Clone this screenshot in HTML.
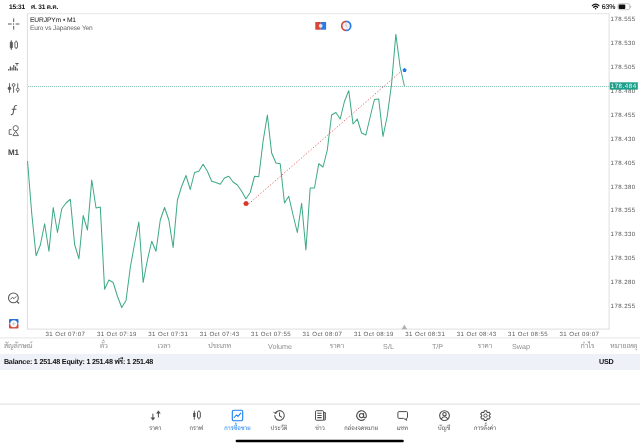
<!DOCTYPE html>
<html lang="th"><head><meta charset="utf-8"><title>EURJPYm M1</title>
<style>
*{margin:0;padding:0;box-sizing:border-box}
html,body{width:640px;height:447px;background:#fff;overflow:hidden}
body{position:relative;text-rendering:geometricPrecision;font-family:"Liberation Sans","Sarabun","Loma",sans-serif;color:#222}
.abs{position:absolute;white-space:nowrap}
.sb{position:absolute;top:2.9px;height:9px;line-height:9px;font-size:6.6px;font-weight:bold;color:#111;white-space:nowrap;letter-spacing:-0.18px}
.pl{position:absolute;left:610.6px;width:28px;height:10px;line-height:10px;font-size:6.1px;color:#555;white-space:nowrap;letter-spacing:0.42px}
.tl{position:absolute;top:329.8px;height:10px;line-height:10px;font-size:6.1px;color:#595959;white-space:nowrap;letter-spacing:0.42px}
.ch{position:absolute;top:341.2px;width:60px;height:12px;line-height:12px;font-size:7.2px;color:#8e8e8e;text-align:center;white-space:nowrap;overflow:visible}
.ch.th{font-size:7px;color:#8a8a8a}
.tab{position:absolute;top:407.8px;width:60px;height:28px;text-align:center;color:#555}
.tab svg{display:block;margin:0 auto}
.tab .tt{font-size:6px;line-height:9px;height:9px;margin-top:2px;white-space:nowrap}
.tab.act{color:#1b7df0}
</style></head><body>
<!-- status bar -->
<div class="sb" style="left:9px">15:31</div>
<div class="sb" style="left:31px">ศ. 31 ต.ค.</div>
<svg class="abs" style="left:588px;top:0" width="50" height="13" viewBox="0 0 50 13">
<path d="M4.3 5.6a4.7 4.7 0 0 1 6.6 0" fill="none" stroke="#111" stroke-width="1.3" stroke-linecap="round"/>
<path d="M5.7 7.2a2.7 2.7 0 0 1 3.8 0" fill="none" stroke="#111" stroke-width="1.3" stroke-linecap="round"/>
<circle cx="7.6" cy="8.7" r="0.8" fill="#111"/>
<rect x="29.9" y="3.7" width="11.8" height="6" rx="1.7" fill="none" stroke="#a0a0a0" stroke-width="0.6"/>
<rect x="30.7" y="4.5" width="6.6" height="4.4" rx="1" fill="#111"/>
<path d="M42.3 5.7v2a1 1 0 0 0 0-2z" fill="#a0a0a0"/>
</svg>
<div class="sb" style="left:601.7px;font-size:6.9px;font-weight:normal;letter-spacing:0;-webkit-text-stroke:0.12px #111">63%</div>

<div class="abs" style="left:30px;top:15.5px;font-size:6.7px;line-height:9px;color:#2a2a2a;letter-spacing:-0.11px;-webkit-text-stroke:0.05px #2a2a2a">EURJPYm • M1</div>
<div class="abs" style="left:30px;top:23.6px;font-size:6.6px;line-height:9px;color:#666;letter-spacing:-0.15px">Euro vs Japanese Yen</div>

<svg class="abs" style="left:0;top:0" width="640" height="447" viewBox="0 0 640 447">
<!-- chart frame -->
<g stroke="#dedede" stroke-width="1" fill="none">
<path d="M27.4 13.2V329.5M609.1 13.2V329.5"/>
<path d="M27 329.1H609.6"/>
<path d="M27 13.7H609.6" stroke="#e6e6e6"/>
<path d="M0 337.9H640" stroke="#e6e6e6"/>
<path d="M0 404.1H640" stroke="#e4e4e4" stroke-width="1.2"/>
</g>
<line x1="28" y1="86.5" x2="609" y2="86.5" stroke="#e9f4f1" stroke-width="1"/>
<line x1="28" y1="86.5" x2="609" y2="86.5" stroke="#93c6ba" stroke-width="1" stroke-dasharray="1 1"/>
<polyline points="27.5,161 31.78,214 36.07,255.75 40.35,245 44.63,223.75 48.92,251.25 53.2,207.5 57.48,232.5 61.76,208.75 66.05,203 70.33,199.25 74.61,244.5 78.9,258.75 83.18,215.5 87.46,230 91.75,180 96.03,208 100.31,207 104.59,289.25 108.88,280 113.16,282.5 117.44,296.25 121.73,307.5 126.01,300.5 130.29,267.5 134.57,243.75 138.86,222 143.14,282.5 147.42,260 151.71,241.25 155.99,251.25 160.27,220 164.56,207.5 168.84,220 173.12,247.5 177.41,200 181.69,186.25 185.97,175.5 190.25,189.5 194.54,172.5 198.82,171.25 203.1,164.25 207.39,171.25 211.67,181.25 215.95,182.5 220.24,184.25 224.52,178 228.8,176.25 233.08,182 237.37,185 241.65,191.25 245.93,198.75 250.22,192.5 254.5,176.25 258.78,176.75 263.07,141.25 267.35,115 271.63,153 275.91,163 280.2,163.75 284.48,203 288.76,196.25 293.05,215 297.33,232.5 301.61,203.25 305.9,250 310.18,188 314.46,188 318.74,163.75 323.03,167 327.31,150 331.59,115 335.88,112.5 340.16,119 344.44,101.5 348.73,90.6 353.01,124 357.29,119 361.57,133 365.86,135 370.14,117 374.42,99.5 378.71,99 382.99,136.5 387.27,116 391.56,84 395.84,34.3 400.12,67 404.4,86" fill="none" stroke="#3eaa83" stroke-width="1.02" stroke-linejoin="round"/>
<line x1="248.6" y1="204" x2="404.4" y2="68.5" stroke="#de5055" stroke-width="0.85" stroke-dasharray="1.3 1.86"/>
<path d="M246.05 201.1l1.9.7.7 1.8-.700 1.8-1.9.7-1.9-.7-.700-1.8.700-1.8z" fill="#d63a2f"/>
<path d="M404.6 67.9l2 1.6-.7 2.5h-2.6l-.7-2.5z" fill="#1976f2"/>
<path d="M404.4 324.4l2.7 4.9h-5.4z" fill="#b0b0b0"/>
<!-- chart top icons -->
<rect x="315.3" y="22" width="5.4" height="7.7" fill="#dc4437"/>
<rect x="320.7" y="22" width="5.4" height="7.7" fill="#2a7be4"/>
<circle cx="320.7" cy="25.85" r="1.9" fill="#e6e6ea"/>
<circle cx="346.2" cy="25.9" r="4" fill="#f1f1f3"/><path d="M346.2 21.4a4.5 4.5 0 0 0 0 9" fill="none" stroke="#d2473b" stroke-width="1.7"/>
<path d="M346.2 21.4a4.5 4.5 0 0 1 0 9" fill="none" stroke="#2a7be4" stroke-width="1.7"/>
<path d="M346 23.5v2.6l1.3 1" fill="none" stroke="#aaa" stroke-width="0.6"/>
<!-- left toolbar -->
<g stroke="#585858" stroke-width="0.9" fill="none">
<path d="M13.7 18.5v3.6M13.7 25.9v3.6M8 24h3.7M15.7 24h3.7" stroke-width="1"/>
<circle cx="13.7" cy="24" r="0.3" fill="#585858"/>
<path d="M11.3 40.2v1.8M11.3 48v2M16.2 40.6v1.2M16.2 47.8v1.2"/>
<rect x="10.3" y="42" width="2" height="6" rx="0.5" fill="#585858"/>
<rect x="14.9" y="41.8" width="2.6" height="6" rx="0.7"/>
<path d="M8.7 70.5v-1.5M10.4 70.5v-4M12.1 70.5v-3M13.8 70.5v-5.5M15.6 70.5v-4M17.3 70.5v-2" stroke-width="1.2"/>
<path d="M15.3 63.5h3.3M17 63.5v2.3" stroke-width="1"/>
<path d="M9.5 83.3v9.5M13.6 83.3v9.5M17.7 83.3v9.5"/>
<circle cx="9.5" cy="88.3" r="1.4" fill="#585858"/>
<circle cx="13.6" cy="85" r="1.4" fill="#fff"/>
<circle cx="17.7" cy="89.6" r="1.4" fill="#fff"/>
<path d="M16.8 105.6c-1.6-.6-2.3.4-2.6 2l-1 5.2c-.3 1.6-1.2 2.2-2.4 1.6M11.8 109.3h4.6" stroke-width="1.05"/>
<circle cx="15.7" cy="128.2" r="2.6"/>
<path d="M15.7 131.2l2.8 4.4h-5.6z"/>
<path d="M11.5 129.7h-2.3v4.7h2.7"/>
<circle cx="13.4" cy="297.9" r="4.9" stroke-width="1.05"/>
<path d="M16.9 301.3l2.2 2.2" stroke-width="1.2"/>
<path d="M10.6 299.3l1.8-2 1.6 1.4 2.2-2.3" stroke-width="1"/>
</g>
<rect x="9" y="319" width="9.5" height="4.8" rx="1" fill="#2a6fd6"/>
<rect x="9" y="323.7" width="9.5" height="4.8" rx="1" fill="#d64a3a"/>
<circle cx="13.75" cy="323.75" r="3.5" fill="#fff"/>
<path d="M13.75 321.8v3.9M11.8 323.75h3.9" stroke="#aaa" stroke-width="0.5"/>
<!-- home indicator -->
<rect x="235.6" y="439.7" width="168.2" height="2.6" rx="1.3" fill="#000"/>
</svg>
<div class="abs" style="left:7.3px;top:147.5px;width:12px;text-align:center;font-size:8px;line-height:10px;font-weight:bold;color:#444;letter-spacing:-0.3px">M1</div>

<!-- price labels -->
<div class="pl" style="top:15.4px">178.555</div>
<div class="pl" style="top:39.27px">178.530</div>
<div class="pl" style="top:63.15px">178.505</div>
<div class="pl" style="top:87.03px">178.480</div>
<div class="pl" style="top:110.9px">178.455</div>
<div class="pl" style="top:134.78px">178.430</div>
<div class="pl" style="top:158.65px">178.405</div>
<div class="pl" style="top:182.53px">178.380</div>
<div class="pl" style="top:206.4px">178.355</div>
<div class="pl" style="top:230.28px">178.330</div>
<div class="pl" style="top:254.15px">178.305</div>
<div class="pl" style="top:278.02px">178.280</div>
<div class="pl" style="top:301.9px">178.255</div>
<svg class="abs" style="left:600px;top:80px" width="40" height="12" viewBox="0 0 40 12"><rect x="9.7" y="2.3" width="28.1" height="7.3" fill="#1fa08b"/></svg>
<div class="abs" style="left:610.7px;top:82.3px;height:10px;color:#fff;font-size:6.1px;line-height:10px;letter-spacing:0.55px">178.484</div>
<!-- time labels -->
<div class="tl" style="left:45.5px">31 Oct 07:07</div>
<div class="tl" style="left:96.9px">31 Oct 07:19</div>
<div class="tl" style="left:148.3px">31 Oct 07:31</div>
<div class="tl" style="left:199.7px">31 Oct 07:43</div>
<div class="tl" style="left:251.1px">31 Oct 07:55</div>
<div class="tl" style="left:302.5px">31 Oct 08:07</div>
<div class="tl" style="left:353.9px">31 Oct 08:19</div>
<div class="tl" style="left:405.3px">31 Oct 08:31</div>
<div class="tl" style="left:456.7px">31 Oct 08:43</div>
<div class="tl" style="left:508.1px">31 Oct 08:55</div>
<div class="tl" style="left:559.5px">31 Oct 09:07</div>
<!-- table header -->
<div class="ch th" style="left:-11.75px">สัญลักษณ์</div>
<div class="ch th" style="left:74px">ตั๋ว</div>
<div class="ch th" style="left:134px">เวลา</div>
<div class="ch th" style="left:189.62px">ประเภท</div>
<div class="ch" style="left:250px">Volume</div>
<div class="ch th" style="left:307px">ราคา</div>
<div class="ch" style="left:358.5px">S/L</div>
<div class="ch" style="left:407.5px">T/P</div>
<div class="ch th" style="left:455px">ราคา</div>
<div class="ch" style="left:491px">Swap</div>
<div class="ch th" style="left:557.62px">กำไร</div>
<div class="ch th" style="left:593.75px">หมายเหตุ</div>
<div class="abs" style="left:0;top:354px;width:640px;height:15.5px;background:#eef1f8"></div>
<div class="abs" style="left:3.9px;top:357px;font-size:7.2px;line-height:10px;font-weight:bold;color:#111;letter-spacing:-0.22px">Balance: 1 251.48 Equity: 1 251.48 ฟรี: 1 251.48</div>
<div class="abs" style="left:599px;top:357px;font-size:7.2px;line-height:10px;font-weight:bold;color:#111;letter-spacing:-0.2px">USD</div>
<!-- tab bar -->
<div class="tab" style="left:125.3px"><svg width="15" height="15" viewBox="0 0 15 15"><path d="M4.9 5.6v5M10.4 9.5v-5" fill="none" stroke="#4d4d4d" stroke-width="1"/><path d="M2.5 9.5h4.8l-2.4 2.9zM8 5.5h4.8l-2.4-2.9z" fill="#4d4d4d"/></svg><div class="tt">ราคา</div></div>
<div class="tab" style="left:166.4px"><svg width="15" height="15" viewBox="0 0 15 15"><path d="M5.3 2.7v9M9.9 2.4v1.2M9.9 10v1.4" stroke="#4d4d4d" stroke-width="0.9" fill="none"/><rect x="4.2" y="4.7" width="2.2" height="4.4" rx="0.6" fill="#4d4d4d"/><rect x="8.5" y="3.6" width="2.8" height="6.4" rx="0.9" fill="none" stroke="#4d4d4d" stroke-width="1"/></svg><div class="tt">กราฟ</div></div>
<div class="tab act" style="left:207.5px"><svg width="15" height="15" viewBox="0 0 15 15"><rect x="2.3" y="2.3" width="10.4" height="10.4" rx="1.5" fill="none" stroke="#1b7df0" stroke-width="1.1"/><path d="M4.2 9.5l2.2-2.5 1.6 1.3L10.8 5.2" fill="none" stroke="#1b7df0" stroke-width="1.1" stroke-linecap="round" stroke-linejoin="round"/></svg><div class="tt">การซื้อขาย</div></div>
<div class="tab" style="left:249px"><svg width="15" height="15" viewBox="0 0 15 15"><path d="M3.3 5.1A4.8 4.8 0 1 1 2.7 7.6" fill="none" stroke="#4d4d4d" stroke-width="1.05" stroke-linecap="round"/><path d="M1.7 4.1l1.5 1.6 1.8-1.2" fill="none" stroke="#4d4d4d" stroke-width="1" stroke-linecap="round" stroke-linejoin="round"/><path d="M7.5 4.7v3l2 1.4" fill="none" stroke="#4d4d4d" stroke-width="1.05" stroke-linecap="round" stroke-linejoin="round"/></svg><div class="tt">ประวัติ</div></div>
<div class="tab" style="left:290px"><svg width="15" height="15" viewBox="0 0 15 15"><rect x="2.5" y="2.7" width="8" height="9.6" rx="1" fill="none" stroke="#4d4d4d" stroke-width="1"/><path d="M10.5 4.5h2v6.8a1 1 0 0 1-1 1h-1z" fill="#a8a8a8" stroke="#4d4d4d" stroke-width="0.8"/><path d="M4.3 5.2h4.4M4.3 7.4h4.4M4.3 9.6h4.4" stroke="#4d4d4d" stroke-width="1.05"/></svg><div class="tt">ข่าว</div></div>
<div class="tab" style="left:331.25px"><svg width="15" height="15" viewBox="0 0 15 15"><circle cx="7.5" cy="7.6" r="2.1" fill="none" stroke="#4d4d4d" stroke-width="1.1"/><path d="M9.6 5.3v3.2a1.3 1.3 0 0 0 2.7 0V7.6a4.8 4.8 0 1 0-2 3.9" fill="none" stroke="#4d4d4d" stroke-width="1.1" stroke-linecap="round"/></svg><div class="tt">กล่องจดหมาย</div></div>
<div class="tab" style="left:372.3px"><svg width="15" height="15" viewBox="0 0 15 15"><path d="M4 3.6h7.4a1.1 1.1 0 0 1 1.1 1.1v4.6a1.1 1.1 0 0 1-1.1 1.1h-.4l.6 2-3-2H4a1.1 1.1 0 0 1-1.1-1.1v-4.6A1.1 1.1 0 0 1 4 3.6z" fill="none" stroke="#4d4d4d" stroke-width="1" stroke-linejoin="round"/></svg><div class="tt">แชท</div></div>
<div class="tab" style="left:414.1px"><svg width="15" height="15" viewBox="0 0 15 15"><circle cx="7.5" cy="7.6" r="4.85" fill="none" stroke="#4d4d4d" stroke-width="1.1"/><circle cx="7.5" cy="6.2" r="1.7" fill="none" stroke="#4d4d4d" stroke-width="1.1"/><path d="M4.3 11.1c.6-1.7 1.8-2.3 3.2-2.3s2.6.6 3.2 2.3" fill="none" stroke="#4d4d4d" stroke-width="1.1"/></svg><div class="tt">บัญชี</div></div>
<div class="tab" style="left:455.1px"><svg width="15" height="15" viewBox="0 0 15 15"><path d="M5.92 4.25 L6.39 2.73 L8.61 2.73 L9.08 4.25 L9.61 4.56 L11.17 4.2 L12.28 6.13 L11.19 7.29 L11.19 7.91 L12.28 9.07 L11.17 11 L9.61 10.64 L9.08 10.95 L8.61 12.47 L6.39 12.47 L5.92 10.95 L5.39 10.64 L3.83 11 L2.72 9.07 L3.81 7.91 L3.81 7.29 L2.72 6.13 L3.83 4.2 L5.39 4.56Z" fill="none" stroke="#4d4d4d" stroke-width="1.05" stroke-linejoin="round"/><circle cx="7.5" cy="7.6" r="1.7" fill="none" stroke="#4d4d4d" stroke-width="1"/></svg><div class="tt">การตั้งค่า</div></div>

</body></html>
